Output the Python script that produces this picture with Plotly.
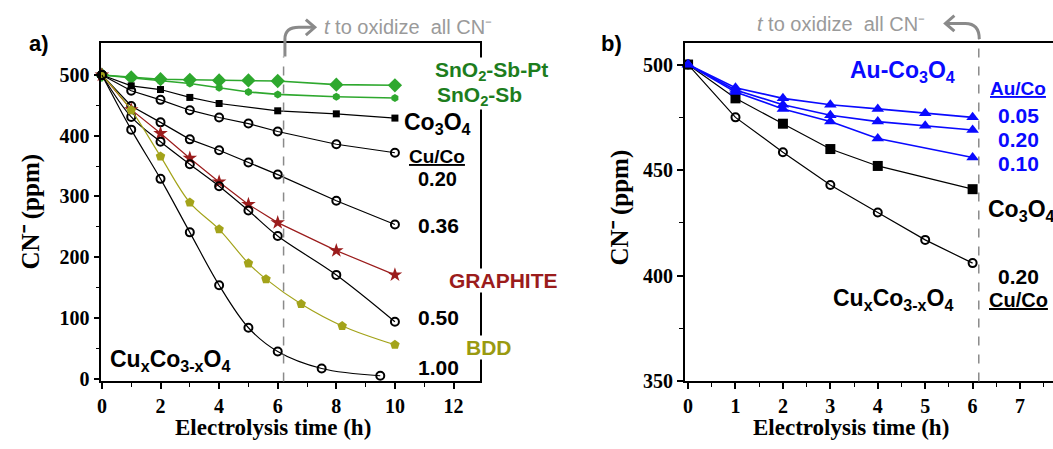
import plotly.graph_objects as go

W, H = 1053, 449

# ---------------- data: panel a ----------------
t_a = [0, 1, 2, 3, 4, 5, 6, 8, 10]
snsbpt_a = [500, 496, 493, 492, 491, 491, 490, 484, 483]
snsb_a = [500, 495, 490, 486, 479, 472, 468, 464, 462]
t_co3o4_a = [0, 1, 2, 3, 4, 6, 8, 10]
co3o4_a = [500, 482, 476, 463, 453, 441, 436, 429]
cu020_a = [500, 474, 459, 442, 430, 420, 407, 386, 372]
cu036_a = [500, 449, 422, 394, 376, 356, 336, 293, 254]
graphite_a = [500, 443, 404, 363, 324, 287, 257, 211, 171]
cu050_a = [500, 431, 390, 353, 317, 277, 235, 171, 94]
t_bdd_a = [0, 1, 2, 3, 4, 5, 5.6, 6.8, 8.2, 10]
bdd_a = [500, 442, 366, 290, 246, 190, 164, 123, 87, 56]
t_cu100_a = [0, 1, 2, 3, 4, 5, 6, 7.5, 9.5]
cu100_a = [500, 410, 329, 241, 154, 84, 45, 17, 5]

# ---------------- data: panel b ----------------
t_b = [0, 1, 2, 3, 4, 5, 6]
cu020_b = [500, 475, 458.5, 443, 430, 417, 406]
t_co3o4_b = [0, 1, 2, 3, 4, 6]
co3o4_b = [500, 484, 472, 460, 452, 441]
au005_b = [500, 489, 484, 481, 479, 477, 475]
au020_b = [500, 488, 481, 476, 473, 471, 469]
t_au010_b = [0, 1, 2, 3, 4, 6]
au010_b = [500, 487, 479, 473, 465, 456]

t_oxidize = 6.2      # dashed marker, panel a (h)
t_oxidize_b = 6.13   # dashed marker, panel b (h)

GREEN_L = "#2ea82e"
GREEN_T = "#1d7d1d"
RED = "#9b1c1c"
OLIVE = "#a3a31a"
OLIVE_T = "#9a9a10"
BLUE = "#0a0aff"
GRAY = "#8a8a8a"


def px(x):
    return x / W


def py(y):
    return (H - y) / H


fig = go.Figure()


def add(x, y, xa, ya, color, symbol, size, lw=1.2, mlw=2, shape="linear"):
    fig.add_trace(go.Scatter(
        x=x, y=y, xaxis=xa, yaxis=ya, mode="lines+markers",
        line=dict(color=color, width=lw, shape=shape),
        marker=dict(symbol=symbol, size=size, color=color,
                    line=dict(color=color, width=mlw)),
        showlegend=False, cliponaxis=False))


# panel a
add(t_a, snsbpt_a, "x", "y", GREEN_L, "diamond", 11, lw=1.6, mlw=0)
add(t_a, snsb_a, "x", "y", GREEN_L, "hexagon", 8, lw=1.6, mlw=0)
add(t_co3o4_a, co3o4_a, "x", "y", "black", "square", 7, mlw=0)
add(t_a, cu020_a, "x", "y", "black", "circle-open", 8)
add(t_a, cu036_a, "x", "y", "black", "circle-open", 8)
add(t_a, graphite_a, "x", "y", RED, "star", 11, mlw=0)
add(t_a, cu050_a, "x", "y", "black", "circle-open", 8, shape="spline")
add(t_bdd_a, bdd_a, "x", "y", OLIVE, "pentagon", 10, mlw=0, shape="spline")
add(t_cu100_a, cu100_a, "x", "y", "black", "circle-open", 8, shape="spline")

# panel b
add(t_b, cu020_b, "x2", "y2", "black", "circle-open", 8)
add(t_co3o4_b, co3o4_b, "x2", "y2", "black", "square", 10, mlw=0)
add(t_au010_b, au010_b, "x2", "y2", BLUE, "triangle-up", 11, lw=1.6, mlw=0)
add(t_b, au020_b, "x2", "y2", BLUE, "triangle-up", 11, lw=1.6, mlw=0)
add(t_b, au005_b, "x2", "y2", BLUE, "triangle-up", 11, lw=1.6, mlw=0)

tickfont = dict(family="Liberation Serif", size=20, color="black", weight="bold")
axcommon = dict(showline=True, linecolor="black", linewidth=1.6, ticks="outside",
                ticklen=6, tickwidth=1.5, tickcolor="black", showgrid=False,
                zeroline=False, tickfont=tickfont)

fig.update_layout(
    width=W, height=H, margin=dict(l=0, r=0, t=0, b=0),
    plot_bgcolor="white", paper_bgcolor="white",
    xaxis=dict(domain=[px(97.7), px(477.7)], range=[-0.02, 12.9], anchor="y",
               tickvals=[0, 2, 4, 6, 8, 10, 12], mirror=True,
               minor=dict(tickvals=[1, 3, 5, 7, 9, 11], ticklen=4, ticks="outside",
                          tickcolor="black", tickwidth=1.3),
               **axcommon),
    yaxis=dict(domain=[py(391), py(44)], range=[-4.3, 552.7], anchor="x",
               tickvals=[0, 100, 200, 300, 400, 500], mirror=True,
               minor=dict(tickvals=[50, 150, 250, 350, 450], ticklen=4, ticks="outside",
                          tickcolor="black", tickwidth=1.3),
               **axcommon),
    xaxis2=dict(domain=[px(683.3), 1.0], range=[-0.071, 7.695], anchor="y2",
                tickvals=[0, 1, 2, 3, 4, 5, 6, 7], mirror=True,
                minor=dict(tickvals=[0.5, 1.5, 2.5, 3.5, 4.5, 5.5, 6.5, 7.5], ticklen=4,
                           ticks="outside", tickcolor="black", tickwidth=1.3),
                **axcommon),
    yaxis2=dict(domain=[py(391), py(44.3)], range=[350, 510.1], anchor="x2",
                tickvals=[350, 400, 450, 500], mirror=False,
                minor=dict(tickvals=[375, 425, 475], ticklen=4, ticks="outside",
                           tickcolor="black", tickwidth=1.3),
                **axcommon),
)

# dashed lines
fig.add_shape(type="line", xref="x", yref="paper", x0=t_oxidize, x1=t_oxidize,
              y0=py(391), y1=py(58), line=dict(color=GRAY, width=1.5, dash="dash"))
fig.add_shape(type="line", xref="x2", yref="paper", x0=t_oxidize_b, x1=t_oxidize_b,
              y0=py(391), y1=py(40), line=dict(color=GRAY, width=1.5, dash="dash"))


# curved arrows
def pth(cmds):
    out = []
    for c in cmds:
        if isinstance(c, str):
            out.append(c)
        else:
            out.append(f"{px(c[0]):.5f},{py(c[1]):.5f}")
    return " ".join(out)


arrow_line = dict(color=GRAY, width=3)
fig.add_shape(type="path", xref="paper", yref="paper", line=arrow_line,
              path=pth(["M", (282, 58), "L", (282, 40), "Q", (282, 28), (296, 28), "L", (311, 28)]))
fig.add_shape(type="path", xref="paper", yref="paper", line=arrow_line,
              path=pth(["M", (303, 20), "L", (312, 28), "L", (303, 36)]))
fig.add_shape(type="path", xref="paper", yref="paper", line=arrow_line,
              path=pth(["M", (979, 40), "Q", (979, 24), (965, 24), "L", (946, 24)]))
fig.add_shape(type="path", xref="paper", yref="paper", line=arrow_line,
              path=pth(["M", (954, 16), "L", (945, 24), "L", (954, 32)]))

ARIAL = "Liberation Sans"


def label(text, x, y, color="black", size=19, bold=True, bg="white", anchor="left"):
    fig.add_annotation(text=f"<b>{text}</b>" if bold else text, x=px(x), y=py(y),
                       xref="paper", yref="paper", xanchor=anchor, yanchor="middle",
                       showarrow=False, font=dict(family=ARIAL, size=size, color=color),
                       bgcolor=bg, borderpad=0)


# panel a labels
label("a)", 24, 45, size=22, bg=None)
label("<i>t</i> to oxidize  all CN⁻", 320, 28, color="#9a9a9a", size=20, bold=False, bg=None)
label("SnO<sub>2</sub>-Sb-Pt", 432, 73, color=GREEN_T, size=21)
label("SnO<sub>2</sub>-Sb", 434, 98, color=GREEN_T, size=21)
label("Co<sub>3</sub>O<sub>4</sub>", 401, 127, size=23, bg=None)
label("<u>Cu/Co</u>", 406, 160, size=19, bg=None)
label("0.20", 415, 184, size=20, bg=None)
label("0.36", 415, 231, size=21, bg=None)
label("GRAPHITE", 446, 288, color=RED, size=21)
label("0.50", 415, 325, size=21, bg=None)
label("BDD", 463, 356, color=OLIVE_T, size=21)
label("1.00", 415, 377, size=21, bg=None)
label("Cu<sub>x</sub>Co<sub>3-x</sub>O<sub>4</sub>", 105, 370, size=23, bg=None)

# panel b labels
label("b)", 598, 45, size=22, bg=None)
label("<i>t</i> to oxidize  all CN⁻", 755, 25, color="#9a9a9a", size=20, bold=False, bg=None)
label("Au-Co<sub>3</sub>O<sub>4</sub>", 848, 73, color=BLUE, size=23, bg=None)
label("<u>Au/Co</u>", 989, 91, color=BLUE, size=19)
label("0.05", 997, 118, color=BLUE, size=21)
label("0.20", 997, 143, color=BLUE, size=21)
label("0.10", 997, 168, color=BLUE, size=21)
label("Co<sub>3</sub>O<sub>4</sub>", 987, 216, size=23)
label("0.20", 997, 283, size=21)
label("<u>Cu/Co</u>", 988, 308, size=20)
label("Cu<sub>x</sub>Co<sub>3-x</sub>O<sub>4</sub>", 831, 307, size=23, bg=None)

# axis titles (serif bold)
SERIF = "Liberation Serif"
for xc in (270, 850):
    fig.add_annotation(text="<b>Electrolysis time (h)</b>", x=px(xc), y=py(438),
                       xref="paper", yref="paper", xanchor="center", yanchor="middle",
                       showarrow=False, font=dict(family=SERIF, size=23, color="black"))
for xc, yc in ((27, 217), (618, 213)):
    fig.add_annotation(text="<b>CN⁻ (ppm)</b>", x=px(xc), y=py(yc), textangle=-90,
                       xref="paper", yref="paper", xanchor="center", yanchor="middle",
                       showarrow=False, font=dict(family=SERIF, size=25, color="black"))

fig.write_html("out.html", config={"displayModeBar": False},
               post_script="document.body.style.margin='0';document.body.style.overflow='hidden';")
